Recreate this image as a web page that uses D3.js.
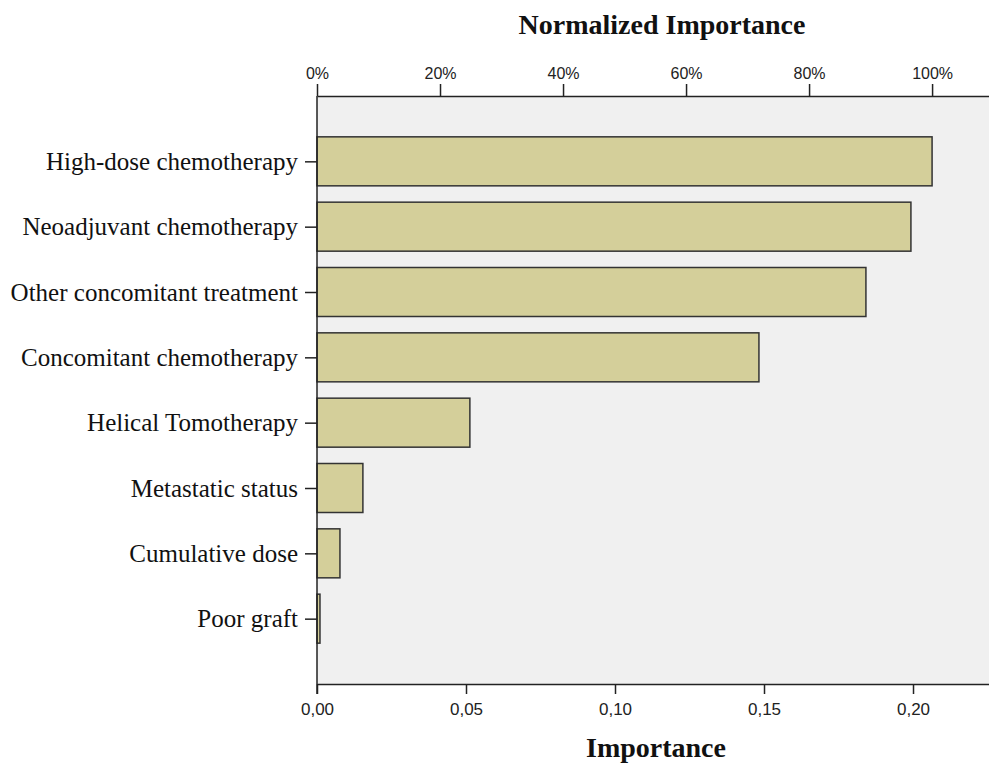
<!DOCTYPE html>
<html><head><meta charset="utf-8">
<script src="https://cdn.jsdelivr.net/npm/d3@7"></script>
<style>body{margin:0;background:#fff}svg{display:block}</style>
</head><body>
<svg id="c" width="989" height="764"></svg>
<script>
const categories = ["High-dose chemotherapy","Neoadjuvant chemotherapy","Other concomitant treatment","Concomitant chemotherapy","Helical Tomotherapy","Metastatic status","Cumulative dose","Poor graft"];
const importance = [0.2064,0.1993,0.1842,0.1483,0.0513,0.0154,0.0077,0.0010];
const bottomTicks = [0,0.05,0.10,0.15,0.20];
const topTicks = [0,0.2,0.4,0.6,0.8,1.0];

const svg = d3.select("#c");
const L=317,R=989,T=96,B=684;
const xMax = 0.2255;
const x = d3.scaleLinear().domain([0,xMax]).range([L,R]);
const maxImp = d3.max(importance);
const xTop = d3.scaleLinear().domain([0,xMax/maxImp]).range([L,R]);
const y = d3.scalePoint().domain(categories).range([T,B]).padding(1);
const bh = y.step()*0.75;

svg.append("rect").attr("x",L).attr("y",T).attr("width",R-L).attr("height",B-T).attr("fill","#f0f0f0");

svg.append("g").selectAll("rect").data(categories).join("rect")
  .attr("x",x(0)).attr("y",d=>y(d)-bh/2)
  .attr("width",(d,i)=>x(importance[i])-x(0)).attr("height",bh)
  .attr("fill","#d4cf9a").attr("stroke","#333").attr("stroke-width",1.5);

const gTop = svg.append("g").attr("transform",`translate(0,${T})`)
  .call(d3.axisTop(xTop).tickValues(topTicks).tickFormat(d=>Math.round(d*100)+"%").tickSize(12).tickPadding(5).tickSizeOuter(0));
const gBot = svg.append("g").attr("transform",`translate(0,${B})`)
  .call(d3.axisBottom(x).tickValues(bottomTicks).tickFormat(d=>d3.format(".2f")(d).replace(".",",")).tickSize(10).tickPadding(9).tickSizeOuter(0));
[gTop,gBot].forEach(g=>{
  g.select(".domain").attr("stroke","#222").attr("stroke-width",1.5);
  g.selectAll(".tick line").attr("stroke","#222").attr("stroke-width",1.5);
  g.selectAll("text").attr("font-family","'Liberation Sans', Arial, sans-serif").attr("fill","#222");
});
gTop.selectAll("text").attr("font-size",16);
gBot.selectAll("text").attr("font-size",17);

const gLeft = svg.append("g").attr("transform",`translate(${L},0)`)
  .call(d3.axisLeft(y).tickSize(12).tickPadding(7).tickSizeOuter(0));
gLeft.select(".domain").remove();
gLeft.selectAll(".tick line").attr("stroke","#222").attr("stroke-width",1.5);
gLeft.selectAll("text").attr("font-family","'Liberation Serif', 'Times New Roman', serif").attr("font-size",25).attr("fill","#111").attr("dy","0.32em");
svg.append("line").attr("x1",L).attr("x2",L).attr("y1",T).attr("y2",B+10).attr("stroke","#222").attr("stroke-width",1.5);

svg.append("text").attr("x",662).attr("y",34).attr("text-anchor","middle")
  .attr("font-family","'Liberation Serif', 'Times New Roman', serif").attr("font-weight","bold").attr("font-size",28).attr("fill","#111").text("Normalized Importance");
svg.append("text").attr("x",656).attr("y",757).attr("text-anchor","middle")
  .attr("font-family","'Liberation Serif', 'Times New Roman', serif").attr("font-weight","bold").attr("font-size",28).attr("fill","#111").text("Importance");
</script>
</body></html>
